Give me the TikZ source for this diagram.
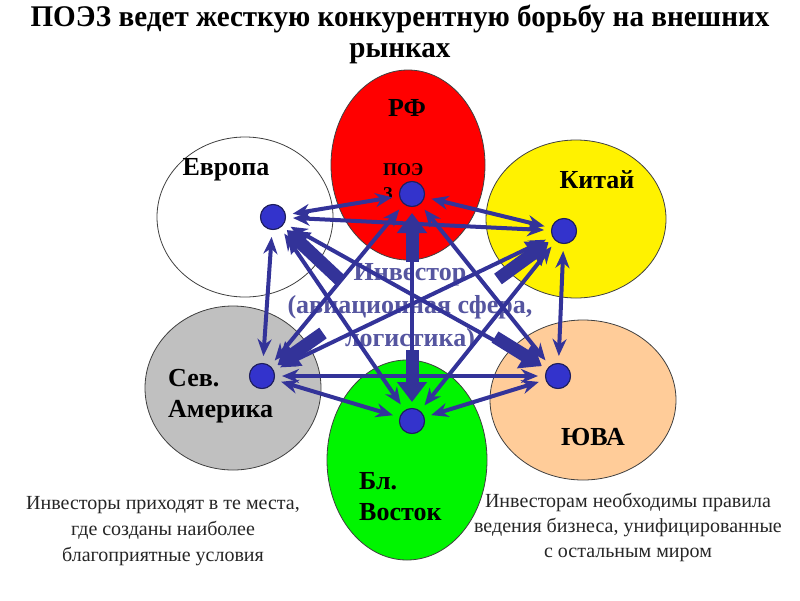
\documentclass[tikz,border=0pt]{standalone}
\usepackage{fontspec}
\setmainfont{Liberation Serif}
\usetikzlibrary{shapes.geometric,arrows.meta}
\definecolor{strel}{RGB}{51,51,153}
\definecolor{tochka}{RGB}{51,51,204}
\definecolor{invest}{RGB}{85,85,160}
\definecolor{persik}{RGB}{255,204,153}
\definecolor{seryi}{RGB}{192,192,192}
\definecolor{zelen}{RGB}{0,245,0}
\begin{document}
\begin{tikzpicture}[x=1pt,y=-1pt]
			\tikzset{e/.style={ellipse,draw=black!75,line width=0.8pt,inner sep=0pt},
				t/.style={circle,draw=strel!60!black,fill=tochka,line width=1pt,minimum size=25pt,inner sep=0pt},
				m/.style={font=\fontsize{26}{31}\selectfont\bfseries,align=left,inner sep=0pt},
				tn/.style={strel,line width=4pt,{Stealth[length=17pt,width=14pt]}-{Stealth[length=17pt,width=14pt]},shorten <=7pt,shorten >=7pt},
				tk/.style={strel,line width=13pt,-{Triangle[length=20pt,width=29pt]},shorten >=6pt},
				p/.style={font=\fontsize{20}{26}\selectfont,align=center,text=black!85,inner sep=0pt}}
			\useasboundingbox[fill=white](0,0)rectangle(800,600);
			\path(400,5)node[anchor=north,align=center,inner sep=0pt,font=\fontsize{30}{31}\selectfont\bfseries](zag){\scalebox{0.97}[1]{ПОЭЗ ведет жесткую конкурентную борьбу на внешних}\\\scalebox{0.97}[1]{рынках}};
			%%эллипсы
			\path(245,217)node[e,fill=white,minimum width=176pt,minimum height=160pt](evr){}
				(576,219)node[e,fill=yellow,minimum width=180pt,minimum height=158pt](kit){}
				(233,388)node[e,fill=seryi,minimum width=176pt,minimum height=164pt](sam){}
				(583,400)node[e,fill=persik,minimum width=186pt,minimum height=160pt](yuva){}
				(408,165)node[e,fill=red,minimum width=154pt,minimum height=190pt](rf){}
				(407,460)node[e,fill=zelen,minimum width=160pt,minimum height=200pt](blv){};
			%%подписи
			\path(407,108)node[m](lrf){РФ}
				(383,163)node[m,anchor=north west,font=\fontsize{18}{24}\selectfont\bfseries](lpoez){ПОЭ\\З}
				(226,170)node[m](levr){Европа}
				(597,180)node[m](lkit){Китай}
				(168,396)node[m,anchor=west](lsam){Сев.\\Америка}
				(593,437)node[m](lyuva){ЮВА}
				(359,497)node[m,anchor=west](lblv){Бл.\\Восток};
			\path(410,308)node[m,align=center,text=invest,font=\fontsize{26}{33}\selectfont\bfseries](inv){Инвестор\\(авиационная сфера,\\логистика)};
			%%точки
			\path(412,194)node[t](drf){}
				(273,217)node[t](dev){}
				(564,231)node[t](dki){}
				(262,376)node[t](dsa){}
				(558,376)node[t](dyu){}
				(412,421)node[t](dbv){};
			\foreach \x/\y in {
				drf/dev,drf/dki,drf/dsa,drf/dyu,drf/dbv,
				dev/dki,dev/dsa,dev/dyu,dev/dbv,
				dki/dsa,dki/dyu,dki/dbv,
				dsa/dyu,dsa/dbv,
				dyu/dbv}
			\draw[tn](\x)--(\y);
			%%толстые стрелки от инвестора
			\coordinate(kev)at(340,280);
			\coordinate(kki)at(498,279);
			\coordinate(ksa)at(323,333);
			\coordinate(kyu)at(495,337);
			\coordinate(krf)at(412,262);
			\coordinate(kbv)at(412,350);
			\foreach \x/\y in {kev/dev,kki/dki,ksa/dsa,kyu/dyu,krf/drf,kbv/dbv}
			\draw[tk](\x)--(\y);
			\foreach \d in {drf,dev,dki,dsa,dyu,dbv}
			\node[t]at(\d){};
			\path(163,531)node[p](tl){Инвесторы приходят в те места,\\где созданы наиболее\\благоприятные условия}
				(628,527)node[p,font=\fontsize{20}{25}\selectfont](tr){Инвесторам необходимы правила\\ведения бизнеса, унифицированные\\с остальным миром};
		\end{tikzpicture}
\end{document}
